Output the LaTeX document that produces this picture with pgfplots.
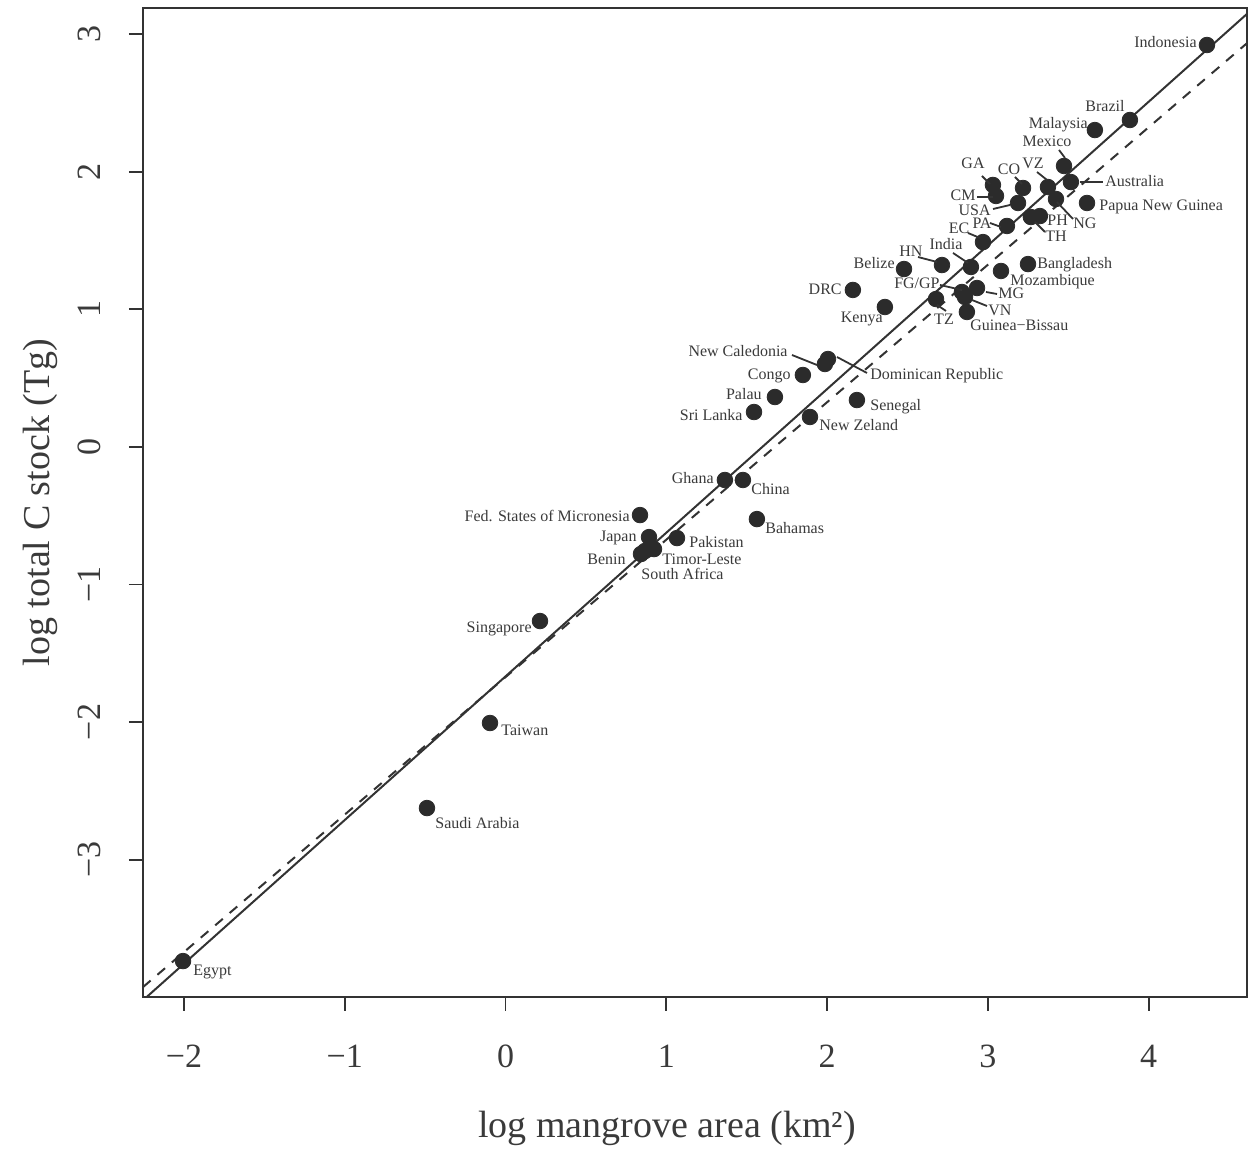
\documentclass[border=0pt]{standalone}
\usepackage{fontspec}
\setmainfont{Liberation Serif}
\usepackage{pgfplots}
\pgfplotsset{compat=1.18}
\definecolor{pt}{HTML}{2B2B2B}
\definecolor{tx}{HTML}{3A3A3A}
\definecolor{ax}{HTML}{333333}
\begin{document}
\begin{tikzpicture}
\begin{axis}[
  scale only axis, width=552pt, height=494.5pt,
  anchor=south west, at={(0,0)},
  xmin=-2.255, xmax=4.611, ymin=-3.998, ymax=3.189,
  axis line style={ax, line width=1pt},
  tick align=outside, xtick pos=bottom, ytick pos=left,
  major tick length=7pt,
  tick style={ax, line width=0.9pt},
  xtick={-2,-1,0,1,2,3,4},
  xticklabels={{−2},{−1},0,1,2,3,4},
  ytick={-3,-2,-1,0,1,2,3},
  yticklabels={{−3},{−2},{−1},0,1,2,3},
  ticklabel style={font=\fontsize{17}{20}\selectfont, text=tx},
  xticklabel style={anchor=center, yshift=-22.5pt},
  yticklabel style={anchor=center, xshift=-20pt, rotate=90},
  xlabel={log mangrove area (km²)},
  ylabel={log total C stock (Tg)},
  label style={font=\fontsize{19}{23}\selectfont, text=tx},
  xlabel style={at={(axis description cs:0.4746,-0.1325)}, anchor=center},
  ylabel style={at={(axis description cs:-0.0933,0.5)}, anchor=center},
]
\addplot[ax, line width=1pt] coordinates {(-2.255,-4.022) (4.611,3.146)};
\addplot[ax, line width=1pt, dash pattern=on 5pt off 4.5pt] coordinates {(-2.255,-3.926) (4.611,2.933)};
\addplot[only marks, mark=*, mark size=3.9pt, color=pt] table {
x y
4.362 2.920
3.883 2.375
3.665 2.302
3.473 2.041
3.031 1.903
3.050 1.823
3.218 1.881
3.187 1.772
3.373 1.888
3.516 1.924
3.423 1.801
3.616 1.772
3.323 1.677
3.267 1.670
3.118 1.605
2.969 1.488
2.478 1.292
2.714 1.321
2.894 1.307
3.249 1.328
3.081 1.278
2.160 1.140
2.359 1.016
2.838 1.125
2.857 1.089
2.932 1.154
2.677 1.074
2.869 0.980
1.986 0.602
2.005 0.638
1.849 0.522
1.675 0.362
1.545 0.253
2.185 0.340
1.893 0.217
1.364 -0.241
1.476 -0.241
0.836 -0.496
1.563 -0.525
0.892 -0.656
1.066 -0.663
0.923 -0.743
0.842 -0.779
0.867 -0.757
0.214 -1.266
-0.097 -2.007
-0.489 -2.625
-2.006 -3.737
};
\end{axis}
\begin{scope}[x=0.5pt, y=-0.5pt, shift={(-71.5pt,498.5pt)},
  every node/.style={font=\fontsize{8}{9.5}\selectfont, text=tx, inner sep=0pt},
  lead/.style={draw=ax, line width=0.9pt}]
\node[anchor=mid east] at (1197,43) {Indonesia};
\node[anchor=mid] at (1105,107) {Brazil};
\node[anchor=mid east] at (1088,124) {Malaysia};
\node[anchor=mid] at (1047,142) {Mexico};
\draw[lead] (1059,150) -- (1065,158);
\node[anchor=mid] at (973,164) {GA};
\draw[lead] (982,176) -- (990,184);
\node[anchor=mid] at (1009,170) {CO};
\draw[lead] (1015,177) -- (1022,184);
\node[anchor=mid] at (1033,164) {VZ};
\draw[lead] (1037,172) -- (1047,180);
\node[anchor=mid east] at (976,196) {CM};
\draw[lead] (977,197) -- (993,197);
\node[anchor=mid east] at (991,211) {USA};
\draw[lead] (993,209) -- (1010,205);
\node[anchor=mid west] at (1105,182) {Australia};
\draw[lead] (1080,182) -- (1103,182);
\node[anchor=mid west] at (1099,206) {Papua New Guinea};
\node[anchor=mid west] at (1073,224) {NG};
\draw[lead] (1057,202) -- (1073,219);
\node[anchor=mid west] at (1047,221) {PH};
\node[anchor=mid west] at (1045,237) {TH};
\draw[lead] (1035,222) -- (1045,232);
\node[anchor=mid] at (982,224) {PA};
\draw[lead] (990,223) -- (1001,227);
\node[anchor=mid] at (959,229) {EC};
\draw[lead] (968,233) -- (980,238);
\node[anchor=mid] at (911,252) {HN};
\draw[lead] (918,257) -- (937,262);
\node[anchor=mid] at (946,245) {India};
\draw[lead] (953,253) -- (968,263);
\node[anchor=mid east] at (895,264) {Belize};
\node[anchor=mid west] at (1037,264) {Bangladesh};
\node[anchor=mid west] at (1010,281) {Mozambique};
\node[anchor=mid east] at (842,290) {DRC};
\node[anchor=mid east] at (883,318) {Kenya};
\node[anchor=mid east] at (940,284) {FG/GP};
\draw[lead] (940,285) -- (962,290);
\node[anchor=mid west] at (998,294) {MG};
\draw[lead] (986,292) -- (997,294);
\node[anchor=mid west] at (988,311) {VN};
\draw[lead] (972,300) -- (987,306);
\node[anchor=mid] at (944,320) {TZ};
\draw[lead] (937,305) -- (946,311);
\node[anchor=mid west] at (970,326) {Guinea−Bissau};
\node[anchor=mid east] at (788,352) {New Caledonia};
\draw[lead] (792,355) -- (817,365);
\node[anchor=mid west] at (870,375) {Dominican Republic};
\draw[lead] (837,357) -- (867,373);
\node[anchor=mid east] at (791,375) {Congo};
\node[anchor=mid east] at (762,395) {Palau};
\node[anchor=mid east] at (743,416) {Sri Lanka};
\node[anchor=mid west] at (870,406) {Senegal};
\node[anchor=mid west] at (819,426) {New Zeland};
\node[anchor=mid east] at (714,479) {Ghana};
\node[anchor=mid west] at (751,490) {China};
\node[anchor=mid east] at (630,517) {Fed. States of Micronesia};
\node[anchor=mid east] at (637,537) {Japan};
\node[anchor=mid west] at (689,543) {Pakistan};
\node[anchor=mid east] at (626,560) {Benin};
\node[anchor=mid west] at (662,560) {Timor-Leste};
\node[anchor=mid west] at (641,575) {South Africa};
\node[anchor=mid west] at (765,529) {Bahamas};
\node[anchor=mid east] at (532,628) {Singapore};
\node[anchor=mid west] at (501,731) {Taiwan};
\node[anchor=mid west] at (435,824) {Saudi Arabia};
\node[anchor=mid west] at (193,971) {Egypt};
\end{scope}
\pgfresetboundingbox
\path[use as bounding box] (-71.5pt,-77.5pt) rectangle (553.5pt,498.5pt);
\end{tikzpicture}
\end{document}
